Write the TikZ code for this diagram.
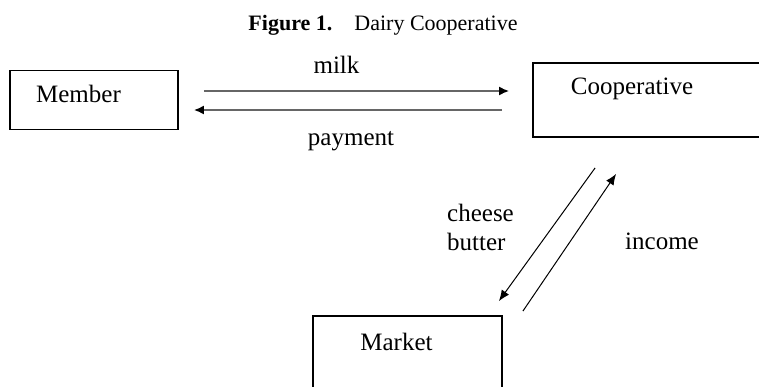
\documentclass[tikz,border=0pt]{standalone}
\usepackage{fontspec}
\setmainfont{Liberation Serif}
\usepackage{tikz}
\usetikzlibrary{positioning, calc}
\usetikzlibrary{arrows.meta}
\tikzstyle{rectbox}=[rectangle,draw=black,line width=0.9pt,inner sep=0pt]
\tikzstyle{boxtext}=[font=\fontsize{12.5}{14.5}\selectfont,inner sep=0pt]
\tikzstyle{flowlabel}=[font=\fontsize{12.5}{14.5}\selectfont,inner sep=0pt,align=left]
\tikzstyle{flowpath} = [-{Latex[length=5pt,width=4.5pt,color=black]},line width=0.85pt,draw=black!60]
\tikzstyle{tradepath} = [-{Latex[length=5.5pt,width=4.5pt]},line width=0.5pt,draw=black]

\begin{document}
\begin{tikzpicture}[x=0.5pt,y=-0.5pt]
        \clip (0,0) rectangle (759,386);
        \node[font=\fontsize{11}{13}\selectfont] (title) at (383,25)
            {\textbf{Figure 1.}\hspace{11pt}Dairy Cooperative};

        \node[rectbox, minimum width=84pt, minimum height=29.5pt,
            label={[boxtext, xshift=-7.75pt, yshift=3.25pt]center:Member}] (member) at (94,100) {};
        \node[rectbox, minimum width=116pt, minimum height=37pt,
            label={[boxtext, xshift=-8.5pt, yshift=5.5pt]center:Cooperative}] (coop) at (649,100) {};
        \node[rectbox, minimum width=94.5pt, minimum height=40pt,
            label={[boxtext, xshift=-5.5pt, yshift=7pt]center:Market}] (market) at (407.5,356) {};

        \path
            ([yshift=4.5pt]member.east) edge [flowpath, shorten <=12.5pt, shorten >=11.5pt] ([yshift=4.5pt]coop.west)
            ([yshift=-5pt]coop.west) edge [flowpath, shorten <=15pt, shorten >=7.5pt] ([yshift=-5pt]member.east);

        \coordinate (cb-start) at ($(coop.south west)+(63,30)$);
        \coordinate (cb-end) at ($(market.north east)+(-4,-14)$);
        \coordinate (in-start) at ($(market.north east)+(20,-4)$);
        \coordinate (in-end) at ($(coop.south west)+(84,36)$);

        \path
            (cb-start) edge [tradepath] (cb-end)
            (in-start) edge [tradepath] (in-end);

        \node[flowlabel] (milk) at (336.5,65) {milk};
        \node[flowlabel] (payment) at (351,141) {payment};
        \node[flowlabel] (goods) at (480.5,227.5) {cheese\\butter};
        \node[flowlabel] (income) at (662,241) {income};
    \end{tikzpicture}
\end{document}
